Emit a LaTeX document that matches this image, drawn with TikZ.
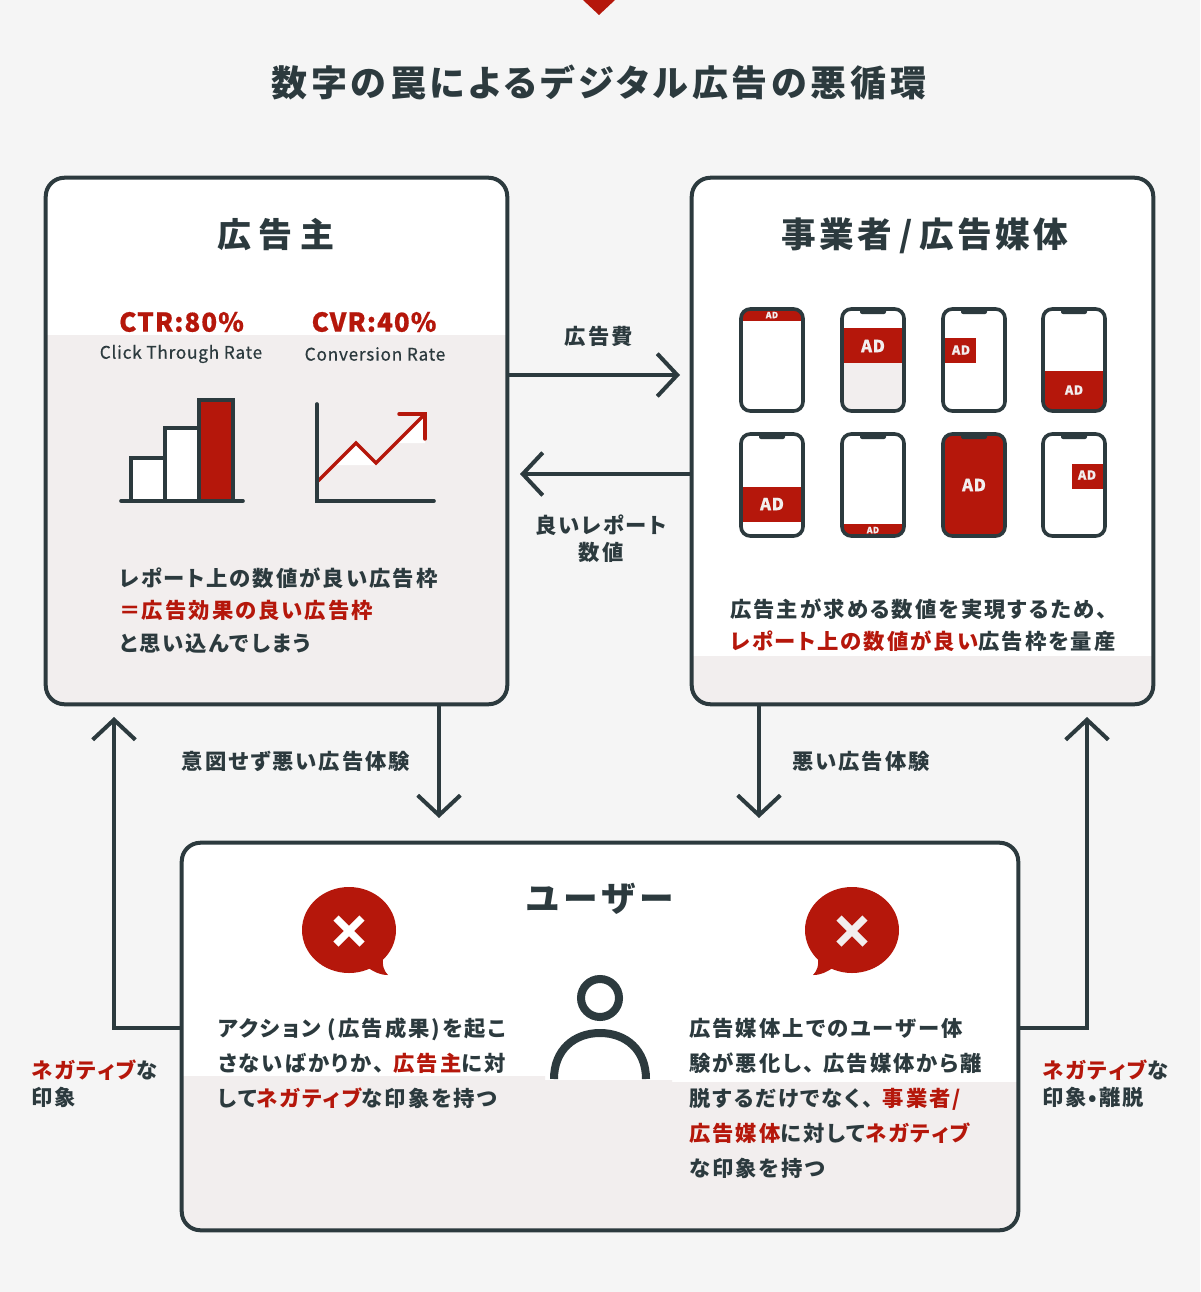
\documentclass[tikz,border=0pt]{standalone}
\usepackage{fontspec}
\usepackage{tikz}
\usetikzlibrary{calc,positioning,arrows.meta}
\newfontfamily\jpb[LetterSpace=9.5,RawFeature=+palt]{Noto Sans CJK JP}
\newfontfamily\jph[LetterSpace=22,RawFeature=+palt]{Noto Sans CJK JP}
\newfontfamily\jpn[LetterSpace=13,RawFeature=+palt]{Noto Sans CJK JP}
\newfontfamily\jpp[LetterSpace=10,RawFeature=+palt]{Noto Sans CJK JP}
\newfontfamily\jpt[LetterSpace=10.5,RawFeature=+palt]{Noto Sans CJK JP}
\newfontfamily\jpl[LetterSpace=4,FakeBold=0.5]{Noto Sans CJK JP}
\definecolor{adink}{HTML}{2C3A3E}
\definecolor{adred}{HTML}{B5170B}
\definecolor{adtint}{HTML}{F2EEEE}
\definecolor{adpage}{HTML}{F5F5F5}
\newcommand{\rd}[1]{\textcolor{adred}{#1}}
\newcommand{\ten}{、\hspace{7pt}}
\tikzset{
  panel/.style={fill=white,inner sep=0pt,rounded corners=14pt,minimum width=345.75pt},
  outline/.style={draw=adink,line width=3pt,rounded corners=14pt},
  link/.style={draw=adink,line width=3pt,-{Straight Barb[length=15pt,width=32pt,line width=3pt]}},
  body/.style={font=\jpb\bfseries\fontsize{16}{24.4}\selectfont,text=adink,inner sep=0pt,anchor=west,align=left},
  gaplabel/.style={font=\jpb\bfseries\fontsize{16}{20.5}\selectfont,text=adink,inner sep=0pt,align=center},
  head/.style={font=\jph\bfseries\fontsize{25.5}{25.5}\selectfont,text=adink,inner sep=0pt},
  headn/.style={font=\jpn\bfseries\fontsize{26}{26}\selectfont,text=adink,inner sep=0pt},
  icon/.style={draw=adink,line width=2.7pt}
}
\begin{document}
\begin{tikzpicture}[x=0.75pt,y=-0.75pt]
    \useasboundingbox[fill=adpage] (0,0) rectangle (1200,1292);
    \fill[adred] (583,0) -- (615,0) -- (599,15) -- cycle;
    \node[font=\jpt\bfseries\fontsize{27}{27}\selectfont,text=adink,inner sep=0pt] (title) at (599,82) {数字の罠によるデジタル広告の悪循環};

    \node[panel,minimum height=394.5pt] (adv) at (276.5,441) {};
    \node[panel,minimum height=394.5pt] (pub) at (922.5,441) {};
    \node[panel,minimum width=627pt,minimum height=290.25pt] (usr) at (600,1036.5) {};

    % tinted lower parts
    \begin{scope}
      \clip[rounded corners=14pt] (adv.south west) rectangle (adv.north east);
      \fill[adtint] (0,335) rectangle (600,704);
      \fill[white] (336,465) -- (356,443) -- (376,463) -- (376,465) -- cycle;
      \fill[white] (376,463) -- (396,443) -- (425,443) -- (425,415) -- cycle;
    \end{scope}
    \begin{scope}
      \clip[rounded corners=14pt] (pub.south west) rectangle (pub.north east);
      \fill[adtint] (600,656) rectangle (1200,704);
    \end{scope}
    \begin{scope}
      \clip[rounded corners=14pt] (usr.south west) rectangle (usr.north east);
      \fill[adtint] (100,1076) -- (545,1076) -- (545,1080) -- (672,1080) -- (672,1082) -- (1100,1082) -- (1100,1240) -- (100,1240) -- cycle;
    \end{scope}
    \draw[outline] (adv.south west) rectangle (adv.north east);
    \draw[outline] (pub.south west) rectangle (pub.north east);
    \draw[outline] (usr.south west) rectangle (usr.north east);

    \node[head] (advhead) at (276,235) {広告主};
    \node[headn,font=\jpp\bfseries\fontsize{26}{26}\selectfont] (pubhead) at (925,236) {事業者\hspace{5pt}/\hspace{5pt}広告媒体};
    \node[headn] (usrhead) at (600,899) {ユーザー};

    % connectors
    \coordinate (revend) at (pub.west |- 0,474);
    \coordinate (revtip) at (520,474);
    \coordinate (fwdstart) at (adv.east |- 0,375);
    \coordinate (fwdtip) at (680,375);
    \coordinate (dlstart) at (439,0 |- adv.south);
    \coordinate (dltip) at (439,818);
    \coordinate (drstart) at (759,0 |- pub.south);
    \coordinate (drtip) at (759,818);
    \coordinate (ulstart) at (usr.west |- 0,1028);
    \coordinate (ultip) at (114,717);
    \coordinate (urstart) at (usr.east |- 0,1028);
    \coordinate (urtip) at (1087,717);
    \draw[link] (fwdstart) -- (fwdtip);
    \draw[link] (revend) -- (revtip);
    \draw[link] (dlstart) -- (dltip);
    \draw[link] (drstart) -- (drtip);
    \draw[link] (ulstart) -| (ultip);
    \draw[link] (urstart) -| (urtip);

    \node[gaplabel] (fee) at (599,336) {広告費};
    \node[gaplabel] (report) at (601,539) {良いレポート\\数値};
    \node[gaplabel] (badl) at (296,761) {意図せず悪い広告体験};
    \node[gaplabel] (badr) at (861,761) {悪い広告体験};
    \node[body,font=\jpb\bfseries\fontsize{16}{20.5}\selectfont] (negl) at (31,1084) {\rd{ネガティブ}な\\印象};
    \node[body,font=\jpb\bfseries\fontsize{16}{20.5}\selectfont] (negr) at (1042,1084) {\rd{ネガティブ}な\\印象•離脱};

    % advertiser
    \node[font=\jpl\bfseries\fontsize{19.5}{19.5}\selectfont,text=adred,inner sep=0pt] (ctr) at (181.5,322) {CTR:80\%};
    \node[font=\jpl\bfseries\fontsize{19.5}{19.5}\selectfont,text=adred,inner sep=0pt] (cvr) at (374,322) {CVR:40\%};
    \node[font=\jpl\fontsize{13}{13}\selectfont,text=adink,inner sep=0pt] (ctrsub) at (181,354) {Click Through Rate};
    \node[font=\jpl\fontsize{13}{13}\selectfont,text=adink,inner sep=0pt] (cvrsub) at (375,354) {Conversion Rate};

    \draw[icon,fill=white] (131,501) rectangle (165,458);
    \draw[icon,fill=white] (165,501) rectangle (199,428);
    \draw[icon,fill=adred] (199,501) rectangle (233,400);
    \draw[icon,line cap=round] (121,501) -- (243,501);
    \draw[adred,line width=2.6pt] (318,481) -- (356,443) -- (376,463) -- (424,415);
    \draw[adred,line width=2.6pt,line cap=round] (399,414) -- (425,414) -- (425,439);
    \draw[icon,line cap=round] (317,404) -- (317,501) -- (434,501);

    \node[body] (advtxt) at (119,610.5) {レポート上の数値が良い広告枠\\\rd{＝\hspace{1pt}広告効果の良い広告枠}\\と思い込んでしまう};

    % phones
    \foreach \px/\py/\bl/\br/\bt/\bb/\lowc/\nc/\ax/\ay/\adz [count=\i] in {
      741/309/0/62/0/12/white/adred/31/6/6.5,
      842/309/0/62/19/54/adtint/adink/31/37/12.5,
      943/309/0/33/29/54/white/adink/18/41/9.5,
      1043/309/0/62/62/102/adred/adink/31/81/9.5,
      741/434/0/62/53/88/white/adink/31/70/12.5,
      842/434/0/62/90/102/adred/adink/31/96/6.5,
      943/434/0/62/0/102/adred/adink/31/51/12.5,
      1043/434/29/62/30/55/white/adink/44/41/9.5}
    {
      \begin{scope}[shift={(\px,\py)}]
        \begin{scope}
          \clip[rounded corners=7pt] (0,0) rectangle (62,102);
          \fill[white] (0,0) rectangle (62,102);
          \fill[\lowc] (0,\bb) rectangle (62,102);
          \fill[adred] (\bl,\bt) rectangle (\br,\bb);
        \end{scope}
        \fill[\nc,rounded corners=1.5pt] (18,-1) rectangle (44,5);
        \draw[icon,rounded corners=7pt] (0,0) rectangle (62,102);
        \node[font=\jpl\bfseries\fontsize{\adz}{\adz}\selectfont,text=adtint,inner sep=0pt] (ad\i) at (\ax,\ay) {AD};
      \end{scope}
    }

    \node[body] (pubtxt) at (730,625) {広告主が求める数値を実現するため、\\\rd{レポート上の数値が良い}広告枠を量産};

    % user
    \foreach \bx/\bs/\xc in {349/1/white,852/-1/adtint}
    {
      \begin{scope}[shift={(\bx,930)},xscale=\bs]
        \fill[adred] (0,0) ellipse [x radius=47,y radius=43];
        \fill[adred] (34,26) .. controls (33,36) and (35,41) .. (39,45) .. controls (31,45) and (25,42) .. (18,37) -- cycle;
        \draw[\xc,line width=5.4pt] (-13,-12) -- (13,14);
        \draw[\xc,line width=5.4pt] (-13,14) -- (13,-12);
      \end{scope}
    }
    \draw[adink,line width=6pt] (600,998) ellipse [x radius=19,y radius=19];
    \draw[adink,line width=6pt] (554,1079) .. controls (554,1050) and (574,1033) .. (600,1033) .. controls (626,1033) and (646,1050) .. (646,1079);

    \node[body,font=\jpb\bfseries\fontsize{16}{26.25}\selectfont] (usrl) at (218,1063) {アクション (広告成果)を起こ\\さないばかりか\ten\rd{広告主}に対\\して\rd{ネガティブ}な印象を持つ};
    \node[body,font=\jpb\bfseries\fontsize{16}{26.25}\selectfont] (usrr) at (689,1098) {広告媒体上でのユーザー体\\験が悪化し\ten 広告媒体から離\\脱するだけでなく\ten\rd{事業者\hspace{1pt}/}\\\rd{広告媒体}に対して\rd{ネガティブ}\\な印象を持つ};
  \end{tikzpicture}
\end{document}
